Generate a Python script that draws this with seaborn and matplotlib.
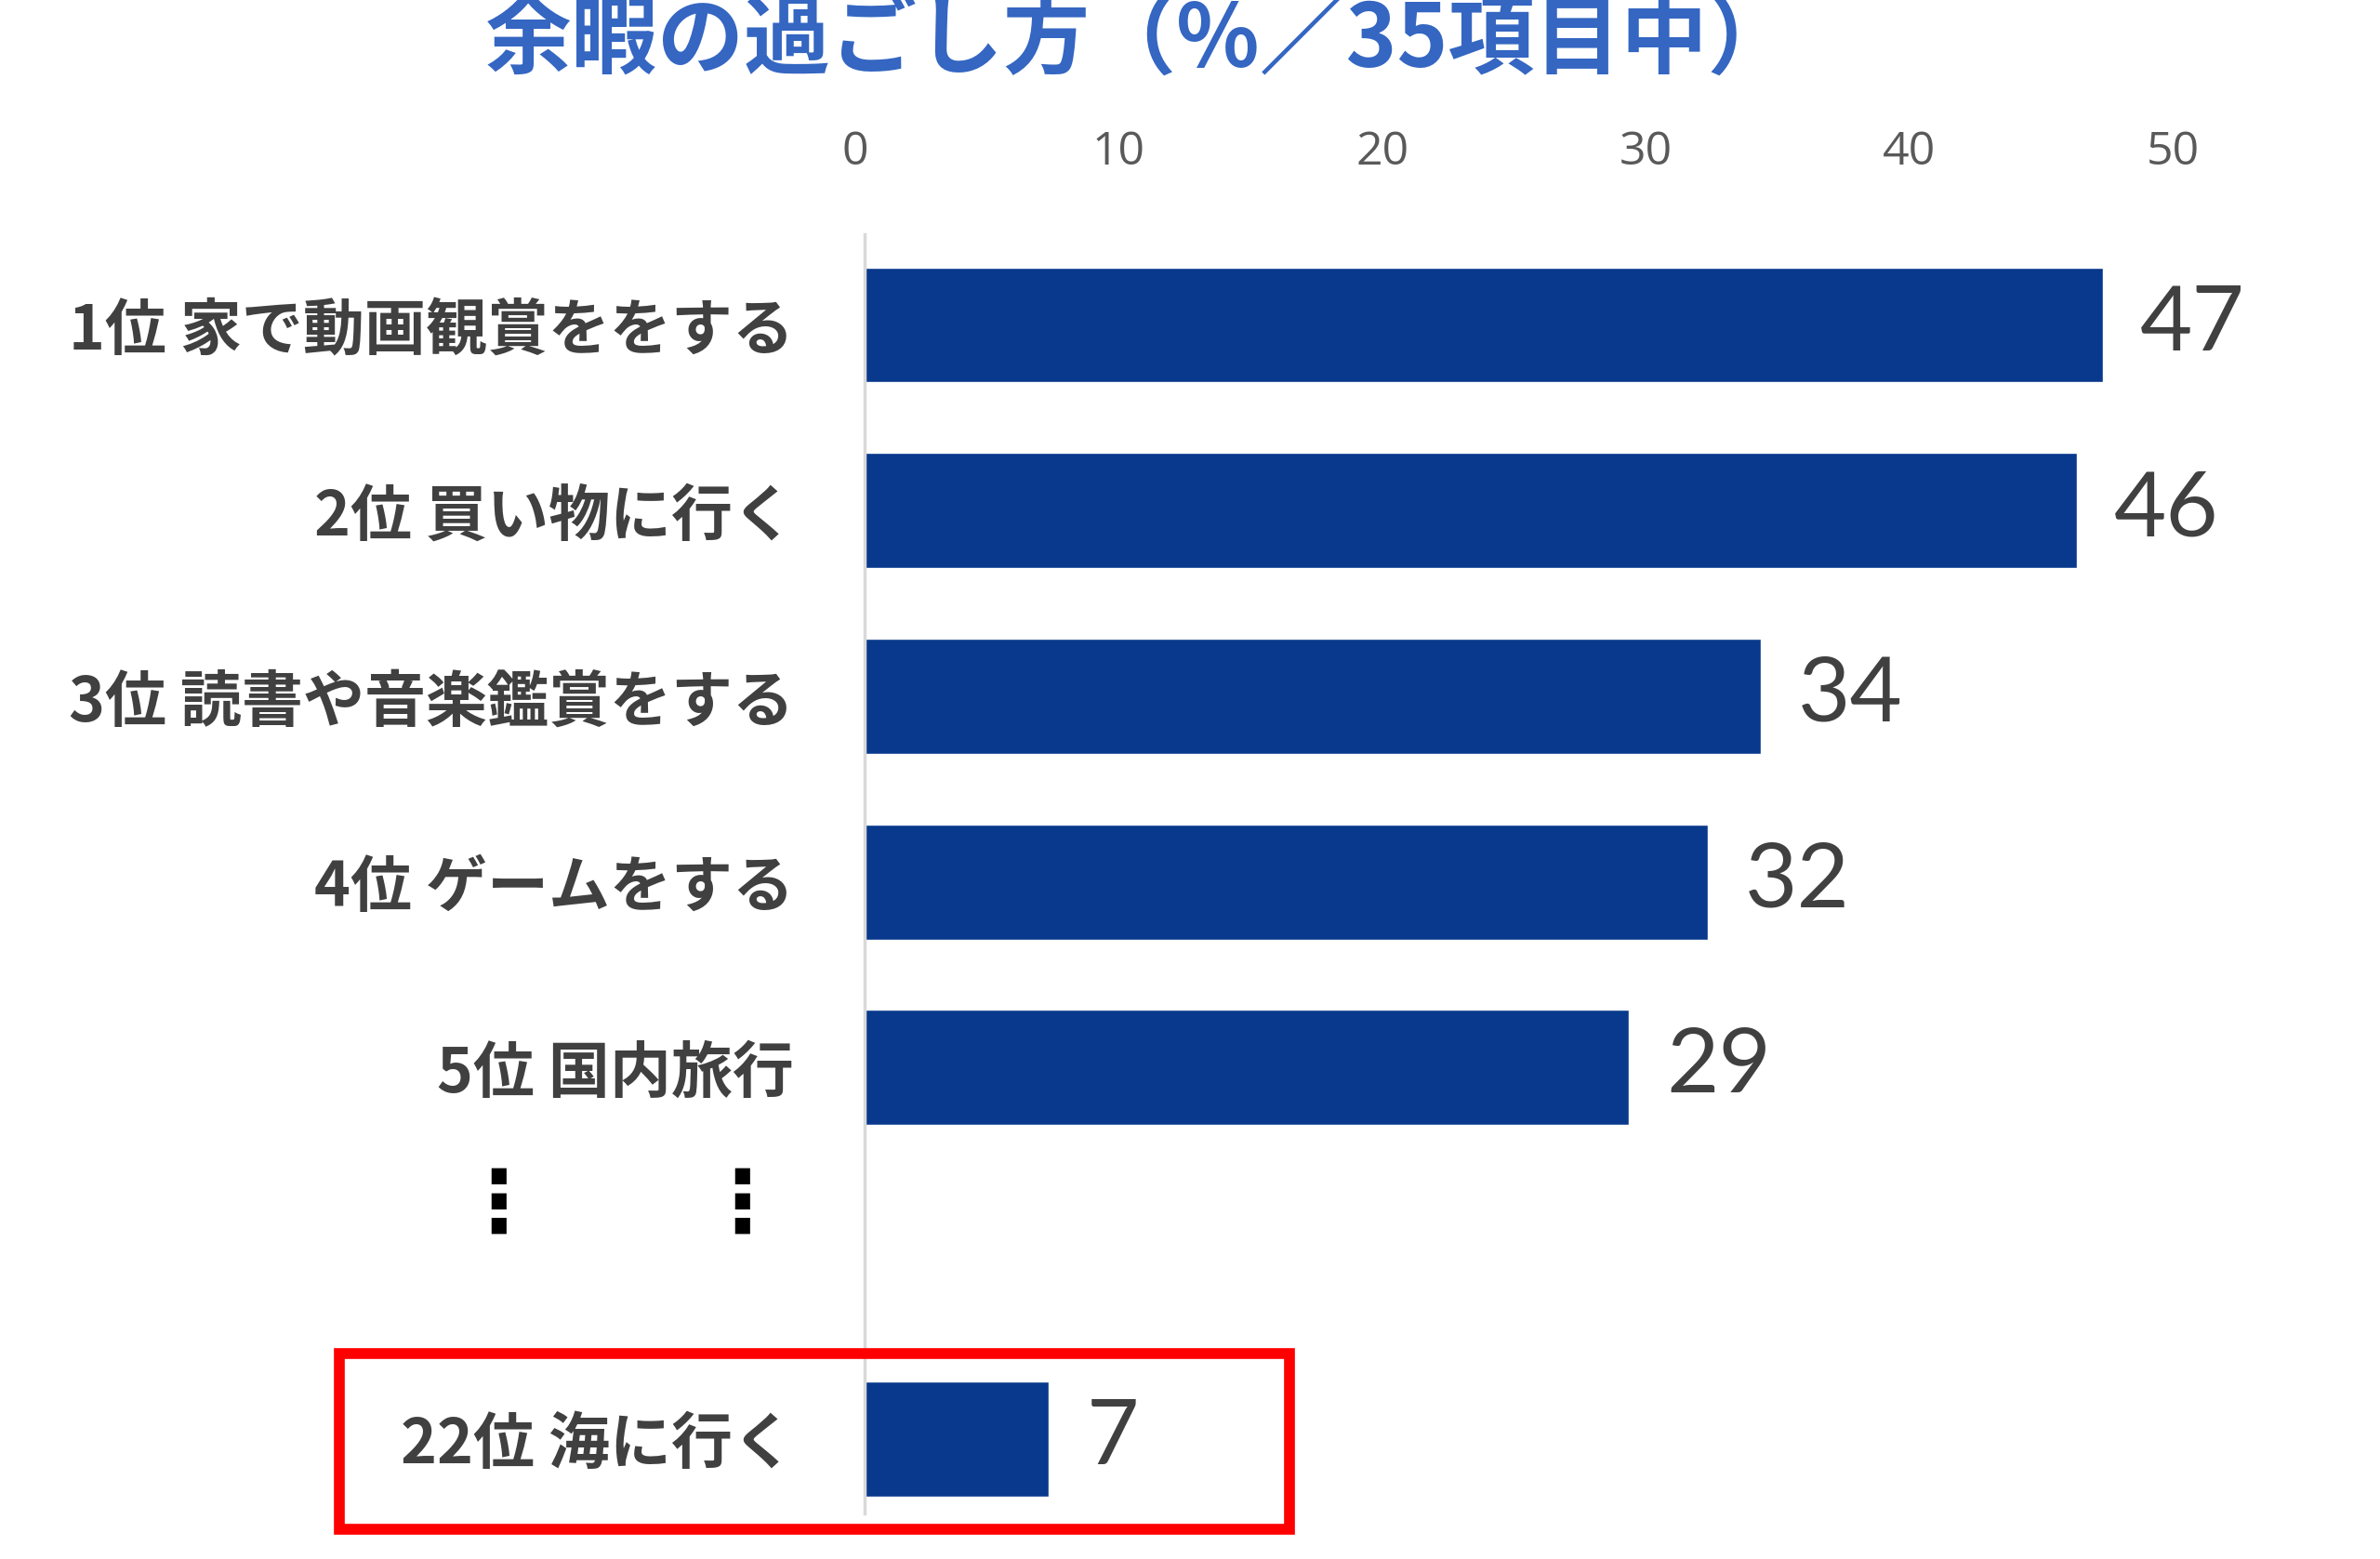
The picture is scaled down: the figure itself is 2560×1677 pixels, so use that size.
import matplotlib
matplotlib.use('Agg')
from matplotlib import pyplot as plt
from matplotlib.patches import Rectangle
from matplotlib.transforms import ScaledTranslation
import pandas as pd
import seaborn as sns

# chart data
title = '余暇の過ごし方（%／35項目中）'
ranks = ['1位', '2位', '3位', '4位', '5位', '22位']
activities = ['家で動画観賞ををする', '買い物に行く', '読書や音楽鑑賞をする',
              'ゲームをする', '国内旅行', '海に行く']
shares = [47, 46, 34, 32, 29, 7]
x_ticks = [0, 10, 20, 30, 40, 50]

labels = [f'{r} {a}' for r, a in zip(ranks, activities)]
gap = '...'
order = labels[:5] + [gap] + labels[5:]
df = pd.DataFrame({'label': labels, 'share': shares})

sns.set_theme(style='white')
plt.rcParams['font.family'] = ['Noto Sans CJK JP', 'DejaVu Sans']

fig = plt.figure(figsize=(25.6, 16.77), dpi=100)
ax = fig.add_axes([0.3633, 0.0295, 0.5535, 0.8204])

sns.barplot(data=df, x='share', y='label', order=order, color='#08398C',
            saturation=1, width=0.62, errorbar=None, ax=ax)

ax.set_xlim(0, 50)
ax.set_ylim(6.4, -0.49)
ax.set_xlabel('')
ax.set_ylabel('')

# x axis on top, no tick marks
ax.xaxis.tick_top()
ax.set_xticks(x_ticks)
ax.set_xticklabels([str(t) for t in x_ticks])
ax.tick_params(axis='x', length=0, pad=45, labelsize=36, labelcolor='#595959')
shift = ScaledTranslation(-10 / 100, 0, fig.dpi_scale_trans)
for t in ax.get_xticklabels():
    t.set_family(['Open Sans', 'DejaVu Sans'])
    t.set_transform(t.get_transform() + shift)

ax.set_yticks(range(len(order)))
ax.set_yticklabels([l if l != gap else '' for l in order])
ax.tick_params(axis='y', length=0, pad=55, labelsize=47.5, labelcolor='#404040')
for t in ax.get_yticklabels():
    t.set_fontweight('bold')

for s in ['top', 'right', 'bottom']:
    ax.spines[s].set_visible(False)
ax.spines['left'].set_color('#D9D9D9')
ax.spines['left'].set_linewidth(2.5)

# value labels
for container in ax.containers:
    ax.bar_label(container, fmt='{:.0f}', padding=29, fontsize=70,
                 color='#404040', family=['Lato', 'DejaVu Sans'])

fig.text(1226 / 2560, 1 - 45 / 1677, title, ha='center', va='center',
         fontsize=67, fontweight='bold', color='#3466C2')

# vertical ellipsis marks for the skipped ranks
for xp in [536, 798]:
    fig.text(xp / 2560, 1 - 1297 / 1677, '⋮', ha='center', va='center',
             fontsize=66, fontweight='bold', color='black',
             family=['Noto Sans CJK JP', 'DejaVu Sans'])

# red highlight box around rank 22
fig.add_artist(Rectangle((0.1426, 0.0191), 0.3992, 0.1127, transform=fig.transFigure,
                         fill=False, edgecolor='#FF0000', linewidth=8.4, clip_on=False))

fig.savefig('out.png', dpi=100)
plt.close()
